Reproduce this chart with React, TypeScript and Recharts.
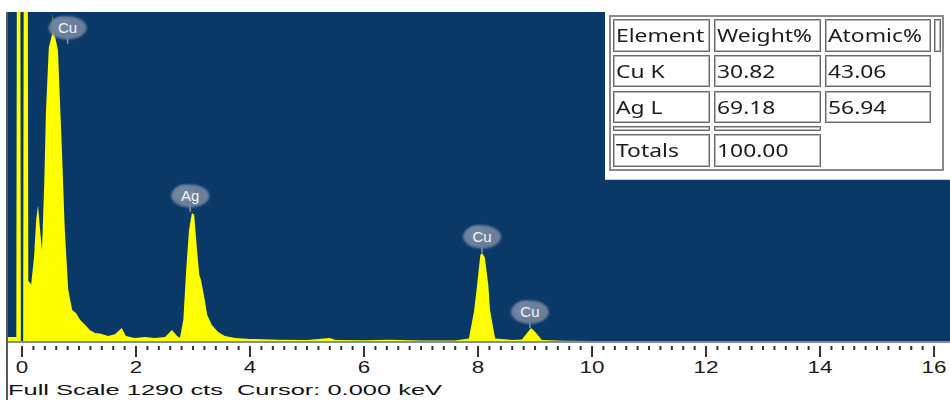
import React from 'react';
import {
  AreaChart,
  Area,
  XAxis,
  YAxis,
  CartesianGrid,
  ReferenceDot,
} from 'recharts';

// EDS spectrum, energy in keV vs counts (full scale 1290 cts)
const energyKeV = [
  -0.25, -0.1, -0.08, -0.04, -0.02, 0.02, 0.04, 0.09, 0.11, 0.16, 0.21, 0.25,
  0.28, 0.32, 0.35, 0.39, 0.42, 0.47, 0.53, 0.54, 0.56, 0.63, 0.7, 0.75, 0.81,
  0.88, 0.95, 1.02, 1.11, 1.19, 1.28, 1.37, 1.51, 1.63, 1.75, 1.82, 1.98, 2.16,
  2.33, 2.51, 2.63, 2.72, 2.77, 2.83, 2.88, 2.93, 2.98, 3.02, 3.07, 3.11, 3.14,
  3.19, 3.25, 3.33, 3.44, 3.56, 3.74, 4.0, 4.5, 5.0, 5.4, 5.5, 6.0, 6.45, 7.0,
  7.6, 7.84, 7.93, 7.98, 8.04, 8.07, 8.12, 8.18, 8.21, 8.3, 8.6, 8.77, 8.86,
  8.93, 9.0, 9.12, 9.5, 10.5, 16.28,
];

const counts = [
  20, 20, 3000, 3000, 0, 0, 3000, 3000, 240, 225, 330, 480,
  535, 430, 360, 620, 900, 1150, 1205, 1286, 1215, 1140, 750, 440, 205,
  125, 112, 86, 66, 47, 35, 33, 23, 30, 55, 23, 16, 20,
  16, 20, 47, 23, 16, 86, 281, 438, 504, 497, 360, 262, 242,
  184, 106, 66, 39, 23, 16, 12, 9, 8, 16, 8, 7, 9, 6,
  6, 14, 120, 215, 340, 348, 330, 223, 125, 14, 8, 10, 35,
  55, 40, 8, 5, 3, 2,
];

const spectrum = energyKeV.map((e, i) => ({ energy: e, counts: counts[i] }));

// element markers: name, energy, label height
const peakNames = ['Cu', 'Ag', 'Cu', 'Cu'];
const peakEnergy = [0.8, 2.95, 8.07, 8.91];
const peakLabelCts = [1228, 571, 411, 117];

const majorTicks = [0, 2, 4, 6, 8, 10, 12, 14, 16];

const tableHead = ['Element', 'Weight%', 'Atomic%'];
const tableRows = [
  ['Cu K', '30.82', '43.06'],
  ['Ag L', '69.18', '56.94'],
];
const tableTotals = ['Totals', '100.00'];

const BG = '#0a3968';
const YELLOW = '#ffff00';

// minor tick every 0.2 keV along the axis
const allTicks = Array.from({ length: 81 }, (_, i) => Math.round(i * 2) / 10);

const EnergyTick = (props: any) => {
  const { x, y, payload } = props;
  const v = payload.value;
  const major = majorTicks.includes(Math.round(v * 10) / 10);
  return (
    <g>
      <line
        x1={x}
        x2={x}
        y1={y + 4}
        y2={y + (major ? 15 : 8)}
        stroke="#333"
        strokeWidth={2}
      />
      {major && (
        <text
          x={0}
          y={0}
          transform={`translate(${x},${y + 31}) scale(1.4,1)`}
          textAnchor="middle"
          fontFamily="'Liberation Sans', Arial, sans-serif"
          fontSize={16}
          fill="#1b1b1b"
        >
          {v}
        </text>
      )}
    </g>
  );
};

const PeakTag = ({ cx, cy, text }: any) => (
  <g>
    <line x1={cx} x2={cx} y1={cy + 9} y2={cy + 16} stroke="#8596ad" strokeWidth={1.5} />
    <ellipse cx={cx} cy={cy} rx={19} ry={11.5} fill="#6b7f9c" filter="url(#soft)" />
    <ellipse cx={cx - 6} cy={cy - 3} rx={10} ry={8} fill="#71859f" filter="url(#soft)" />
    <text
      x={cx}
      y={cy + 5}
      textAnchor="middle"
      fontFamily="'Liberation Sans', Arial, sans-serif"
      fontSize={15}
      fill="#f4f6fa"
    >
      {text}
    </text>
  </g>
);

const cellBase: React.CSSProperties = {
  position: 'absolute',
  boxSizing: 'border-box',
  border: '1px solid #6a6a6a',
  boxShadow: 'inset 0 0 0 1px #b8b8b8',
  background: '#fff',
  fontFamily: "'Noto Sans', 'Open Sans', sans-serif",
  fontSize: 18,
  color: '#1c1c1c',
  paddingLeft: 2,
  overflow: 'hidden',
  whiteSpace: 'pre',
};

const colX = [613, 714, 825];
const colW = [97, 107, 106];
const rowY = [19, 55, 91];
const rowH = [33, 32, 32];

const Cell = ({ x, y, w, h, text }: any) => (
  <div style={{ ...cellBase, left: x, top: y, width: w, height: h, lineHeight: `${h - 2}px` }}>
    {text && (
      <span style={{ display: 'inline-block', transform: 'scaleX(1.27)', transformOrigin: 'left' }}>
        {text}
      </span>
    )}
  </div>
);

const ResultTable = () => (
  <>
    <div
      style={{
        position: 'absolute',
        left: 605,
        top: 10,
        width: 345,
        height: 169,
        background: '#fff',
        borderBottom: '1px solid #c9d3de',
      }}
    />
    <div
      style={{
        position: 'absolute',
        left: 609,
        top: 15,
        width: 335,
        height: 156,
        boxSizing: 'border-box',
        border: '2px solid #8a8a8a',
      }}
    />
    {tableHead.map((t, c) => (
      <Cell key={`h${c}`} x={colX[c]} y={rowY[0]} w={colW[c]} h={rowH[0]} text={t} />
    ))}
    <Cell x={934} y={rowY[0]} w={7} h={rowH[0]} />
    {tableRows.map((row, r) =>
      row.map((t, c) => (
        <Cell key={`r${r}c${c}`} x={colX[c]} y={rowY[r + 1]} w={colW[c]} h={rowH[r + 1]} text={t} />
      ))
    )}
    {tableTotals.map((_, c) => (
      <Cell key={`s${c}`} x={colX[c]} y={126} w={colW[c]} h={5} />
    ))}
    {tableTotals.map((t, c) => (
      <Cell key={`t${c}`} x={colX[c]} y={134} w={colW[c]} h={33} text={t} />
    ))}
  </>
);

export default function App() {
  return (
    <div style={{ position: 'relative', width: 950, height: 400, background: '#fff' }}>
      <style>{'body{margin:0}'}</style>
      <AreaChart
        width={950}
        height={400}
        data={spectrum}
        margin={{ top: 12, right: 0, bottom: 0, left: 8 }}
      >
        <defs>
          <filter id="soft" x="-20%" y="-20%" width="140%" height="140%">
            <feGaussianBlur stdDeviation={0.8} />
          </filter>
        </defs>
        <CartesianGrid fill={BG} stroke="none" horizontal={false} vertical={false} />
        <XAxis
          type="number"
          dataKey="energy"
          domain={[-0.246, 16.28]}
          allowDataOverflow
          ticks={allTicks}
          interval={0}
          height={58}
          tickSize={0}
          tickMargin={0}
          tickLine={false}
          axisLine={{ stroke: '#7d8fa3', strokeWidth: 2 }}
          tick={<EnergyTick />}
        />
        <YAxis hide type="number" domain={[0, 1290]} allowDataOverflow />
        <Area
          type="linear"
          dataKey="counts"
          stroke="none"
          fill={YELLOW}
          fillOpacity={1}
          baseValue={0}
          isAnimationActive={false}
          dot={false}
          activeDot={false}
        />
        {peakNames.map((n, i) => (
          <ReferenceDot
            key={`pk${i}`}
            x={peakEnergy[i]}
            y={peakLabelCts[i]}
            r={0}
            shape={(p: any) => <PeakTag cx={p.cx} cy={p.cy} text={n} />}
          />
        ))}
      </AreaChart>
      <svg
        width={950}
        height={400}
        style={{ position: 'absolute', left: 0, top: 0, pointerEvents: 'none' }}
      >
        <line x1={7} x2={7} y1={12} y2={400} stroke="#222" strokeWidth={1.5} />
        <text
          x={8}
          y={395}
          fontFamily="'Liberation Sans', Arial, sans-serif"
          fontSize={15}
          fill="#111"
          textLength={434}
          lengthAdjust="spacingAndGlyphs"
          style={{ whiteSpace: 'pre' }}
        >
          {'Full Scale 1290 cts  Cursor: 0.000 keV'}
        </text>
      </svg>
      <ResultTable />
    </div>
  );
}
